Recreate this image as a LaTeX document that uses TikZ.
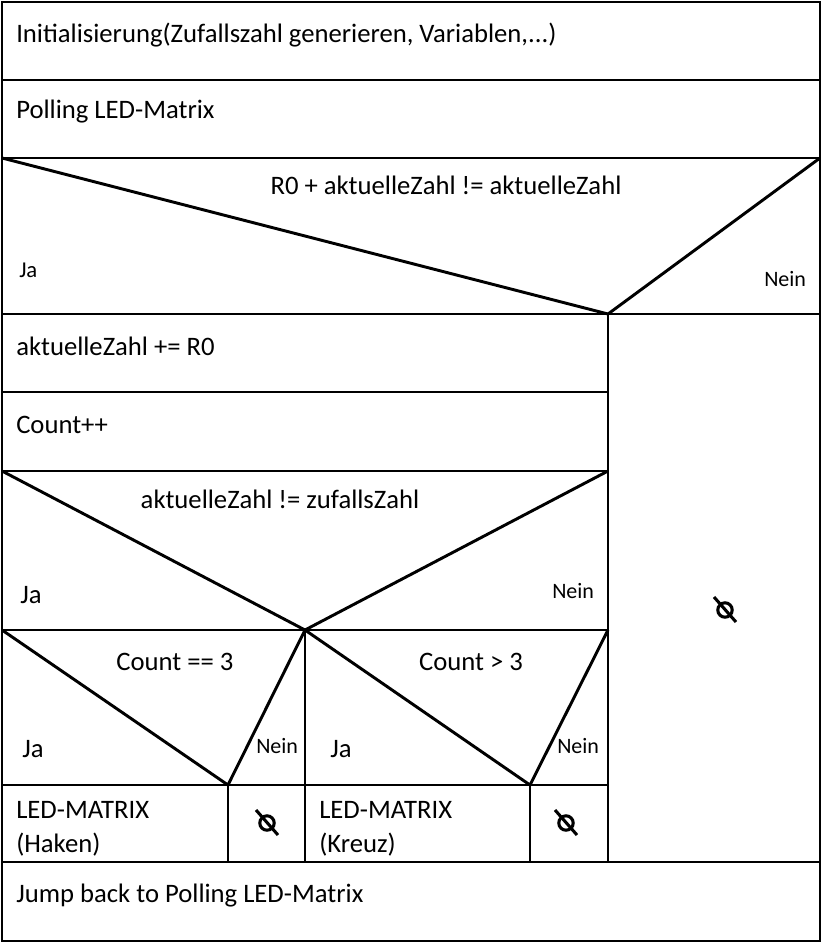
\documentclass[tikz,border=0pt]{standalone}
\usepackage{fontspec}
\setmainfont{Carlito}
\usetikzlibrary{positioning}
\tikzset{
  rahmen/.style={line width=2.2pt,line join=miter},
  txt/.style={anchor=base west,inner sep=0pt,font=\fontsize{20}{24}\selectfont},
  cond/.style={anchor=base,inner sep=0pt,font=\fontsize{20}{24}\selectfont},
  klein/.style={anchor=base west,inner sep=0pt,font=\fontsize{16.5}{20}\selectfont},
  leerzweig/.pic={
    \draw[line width=2.3pt] (0,0) circle[radius=5.4pt];
    \draw[line width=2.3pt] (-11,-13)--(11,12);
  },
}

\begin{document}
\begin{tikzpicture}[x=0.75pt,y=-0.75pt]
  \useasboundingbox (0,0) rectangle (822,943);
  % Rahmen und Zeilen
  \draw[rahmen] (2,2) rectangle (820,941);
  \draw[rahmen] (2,80)--(820,80);
  \draw[rahmen] (2,158)--(820,158);
  \draw[rahmen] (2,314)--(820,314);
  \draw[rahmen] (608,314)--(608,862);
  \draw[rahmen] (2,392)--(608,392);
  \draw[rahmen] (2,471)--(608,471);
  \draw[rahmen] (2,630)--(608,630);
  \draw[rahmen] (305,630)--(305,862);
  \draw[rahmen] (2,785)--(608,785);
  \draw[rahmen] (228,785)--(228,862);
  \draw[rahmen] (530,785)--(530,862);
  \draw[rahmen] (2,862)--(820,862);
  % Verzweigungen
  \draw[rahmen] (2,158)--(608,314)--(820,158);
  \draw[rahmen] (2,471)--(305,630)--(608,471);
  \draw[rahmen] (2,630)--(228,785)--(305,630);
  \draw[rahmen] (305,630)--(530,785)--(608,630);

  \node[txt] (init) at (16,42) {Initialisierung(Zufallszahl generieren, Variablen,...)};
  \node[txt] (poll) at (16,118) {Polling LED-Matrix};
  \node[cond] (c1) at (446,194) {R0 + aktuelleZahl != aktuelleZahl};
  \node[klein,font=\fontsize{17}{20}\selectfont] (ja1) at (19,277) {Ja};
  \node[klein] (nein1) at (764,286) {Nein};
  \node[txt] (add) at (16,355) {aktuelleZahl += R0};
  \node[txt] (cnt) at (16,433) {Count++};
  \node[cond] (c2) at (280,508) {aktuelleZahl != zufallsZahl};
  \node[txt] (ja2) at (20,603) {Ja};
  \node[klein] (nein2) at (552,598) {Nein};
  \node[cond] (c3) at (175,670) {Count == 3};
  \node[txt] (ja3) at (22,757) {Ja};
  \node[klein] (nein3) at (256,753) {Nein};
  \node[cond] (c4) at (471,670) {Count > 3};
  \node[txt] (ja4) at (330,757) {Ja};
  \node[klein] (nein4) at (557,753) {Nein};
  \node[txt] (haken) at (16,818) {LED-MATRIX};
  \node[txt] (haken2) at (16,852) {(Haken)};
  \node[txt] (kreuz) at (319,818) {LED-MATRIX};
  \node[txt] (kreuz2) at (319,852) {(Kreuz)};
  \pic at (725,610) {leerzweig};
  \pic at (267,823) {leerzweig};
  \pic at (566,823) {leerzweig};
  \node[txt] (jump) at (16,902) {Jump back to Polling LED-Matrix};
\end{tikzpicture}
\end{document}
